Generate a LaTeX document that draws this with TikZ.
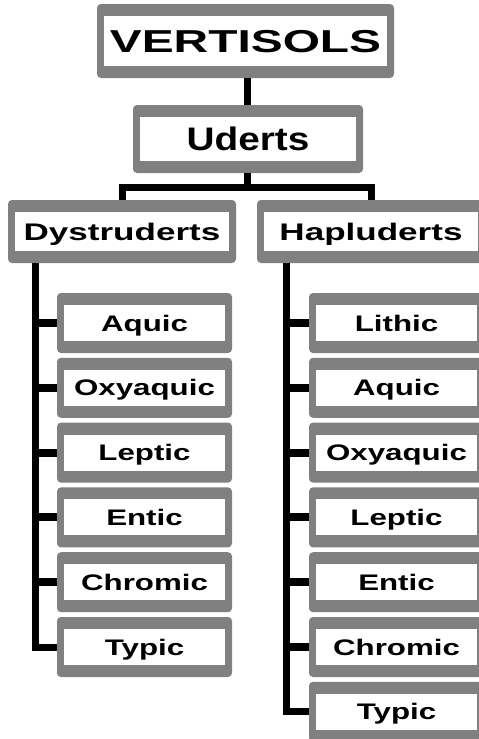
\documentclass[tikz,border=0pt]{standalone}
\usepackage{fontspec}
\setmainfont{Liberation Sans}
\usepackage{graphicx}
\definecolor{boxgray}{RGB}{128,128,128}

\tikzset{every picture/.style={line width=0.75pt}}
\tikzset{
  soilbox/.style={fill=boxgray, rounded corners=4pt, inner sep=0pt, font=\bfseries,
    path picture={\fill[white, sharp corners] ([xshift=7pt,yshift=-12pt]path picture bounding box.north west) rectangle ([xshift=-7pt,yshift=12pt]path picture bounding box.south east);}},
  orderbox/.style={soilbox, minimum width=297pt, minimum height=74pt, text height=23pt, text depth=0pt, font=\bfseries\fontsize{31.7}{32}\selectfont},
  suborderbox/.style={soilbox, minimum width=230pt, minimum height=68pt, text height=23pt, text depth=0pt, font=\bfseries\fontsize{32.6}{33}\selectfont},
  greatgroupbox/.style={soilbox, minimum width=228pt, minimum height=63pt, text height=17pt, text depth=0pt, font=\bfseries\fontsize{24}{25}\selectfont},
  subgroupbox/.style={soilbox, minimum width=175pt, minimum height=60pt, text height=16pt, text depth=0pt, font=\bfseries\fontsize{22.5}{23}\selectfont},
  link/.style={draw=black, line width=7pt, line join=miter},
  stub/.style={draw=black, line width=8pt}
}

\begin{document}
\begin{tikzpicture}[x=1pt,y=1pt,yscale=-1,xscale=1]
\useasboundingbox (0,0) rectangle (479,739);

% Order and suborder
\node [orderbox] (vertisols) at (245.5,41) {\scalebox{1.51}[1]{VERTISOLS}};
\node [suborderbox] (uderts) at (248,139) {\scalebox{1.19}[1]{Uderts}};

% Great groups
\node [greatgroupbox] (dystruderts) at (122,231.5) {\scalebox{1.46}[1]{Dystruderts}};
\node [greatgroupbox] (hapluderts) at (371,231.5) {\scalebox{1.46}[1]{Hapluderts}};

% Subgroups of Dystruderts
\foreach \name [count=\i from 0] in {Aquic,Oxyaquic,Leptic,Entic,Chromic,Typic}
  \node [subgroupbox] (dys\i) at (144.5,323+64.8*\i) {\scalebox{1.39}[1]{\name}};

% Subgroups of Hapluderts
\foreach \name [count=\i from 0] in {Lithic,Aquic,Oxyaquic,Leptic,Entic,Chromic,Typic}
  \node [subgroupbox] (hap\i) at (396.5,323+64.8*\i) {\scalebox{1.39}[1]{\name}};

% Connectors
\coordinate (bus) at (247,187);
\coordinate (dysbus) at (35,263);
\coordinate (hapbus) at (286,263);
\draw [link] (vertisols.south -| bus) -- (uderts.north -| bus);
\draw [link] (uderts.south -| bus) -- (bus);
\draw [link] (dystruderts.north) |- (bus) -| (hapluderts.north);
\draw [link] (dysbus) |- (dys5.west);
\draw [link] (hapbus) |- (hap6.west);
\foreach \i in {0,...,4}
  \draw [stub] (dysbus |- dys\i.west) -- (dys\i.west);
\foreach \i in {0,...,5}
  \draw [stub] (hapbus |- hap\i.west) -- (hap\i.west);

\end{tikzpicture}
\end{document}
